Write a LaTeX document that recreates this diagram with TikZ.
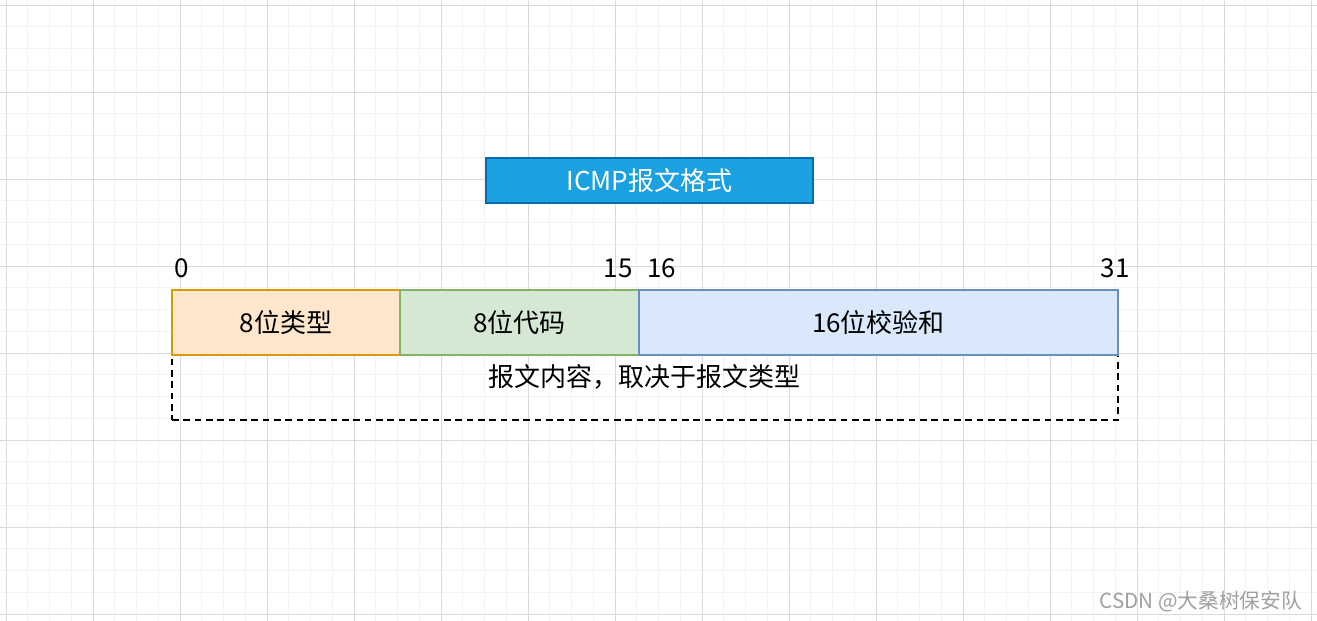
\documentclass[tikz,border=0pt]{standalone}
\usepackage{fontspec}
\setmainfont{Noto Sans CJK SC}
\usepackage{xcolor}
\usetikzlibrary{positioning}
\definecolor{gridminor}{RGB}{243, 243, 243}
\definecolor{gridmajor}{RGB}{218, 218, 218}
\definecolor{titlefill}{RGB}{27, 161, 226}
\definecolor{titledraw}{RGB}{0, 110, 175}
\definecolor{typefill}{RGB}{255, 230, 204}
\definecolor{typedraw}{RGB}{215, 155, 0}
\definecolor{codefill}{RGB}{213, 232, 212}
\definecolor{codedraw}{RGB}{130, 179, 102}
\definecolor{sumfill}{RGB}{218, 232, 252}
\definecolor{sumdraw}{RGB}{108, 142, 191}
\definecolor{markgray}{RGB}{160, 160, 160}

\begin{document}
\begin{tikzpicture}[x=0.75pt, y=-0.75pt,
  field/.style={draw, line width=1.5pt, inner sep=0pt, minimum height=48.75pt, anchor=north west, font=\fontsize{19.5}{23}\selectfont},
  bitno/.style={inner sep=0pt, font=\fontsize{19.5}{23}\selectfont}]

\useasboundingbox (0,0) rectangle (1317,621);
\fill[white] (0,0) rectangle (1317,621);

% grid
\foreach \i in {0,...,60}
  \draw[gridminor, line width=0.75pt] (6+21.75*\i,0) -- (6+21.75*\i,621);
\foreach \j in {0,...,28}
  \draw[gridminor, line width=0.75pt] (0,5+21.75*\j) -- (1317,5+21.75*\j);
\foreach \i in {0,...,15}
  \draw[gridmajor, line width=0.75pt] (6+87*\i,0) -- (6+87*\i,621);
\foreach \j in {0,...,7}
  \draw[gridmajor, line width=0.75pt] (0,5+87*\j) -- (1317,5+87*\j);

\node[draw=titledraw, fill=titlefill, text=white, line width=1.5pt, minimum width=245.25pt, minimum height=33.75pt, inner sep=0pt, font=\fontsize{19.5}{23}\selectfont] (title) at (649.5,180.5) {ICMP报文格式};

\node[field, dashed, dash pattern=on 5pt off 3.5pt, minimum width=709.5pt] (body) at (171,354) {};
\node[font=\fontsize{19.5}{23}\selectfont] (bodytext) at (644,377) {报文内容，取决于报文类型};

\node[field, draw=typedraw, fill=typefill, minimum width=171pt] (type) at (171,289) {8位类型};
\node[field, draw=codedraw, fill=codefill, minimum width=179.25pt] (code) at (399,289) {8位代码};
\node[field, draw=sumdraw, fill=sumfill, minimum width=359.25pt] (sum) at (638,289) {16位校验和};

\node[bitno, anchor=base west] (b0) at ([shift={(3,-12)}]type.north west) {0};
\node[bitno, anchor=base east] (b15) at ([shift={(-7,-12)}]code.north east) {15};
\node[bitno, anchor=base west] (b16) at ([shift={(9,-12)}]sum.north west) {16};
\node[bitno, anchor=base east] (b31) at ([shift={(11,-12)}]sum.north east) {31};

\node[text=markgray, inner sep=0pt, anchor=east, font=\fontsize{15.5}{18}\selectfont] (mark) at (1302,602) {CSDN @大桑树保安队};

\end{tikzpicture}
\end{document}
